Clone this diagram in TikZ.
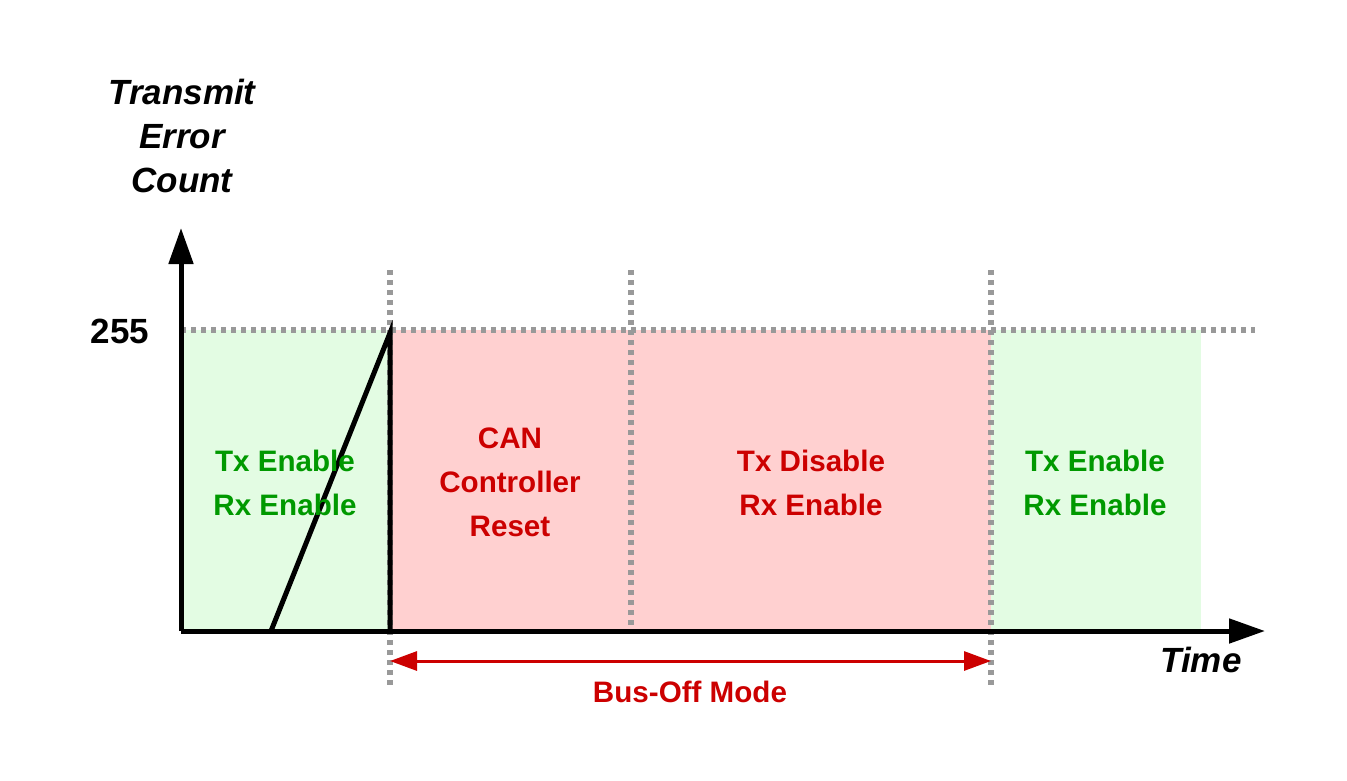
\documentclass[tikz,border=0pt]{standalone}
\usepackage{fontspec}
\setmainfont{Liberation Sans}
\usetikzlibrary{arrows.meta}
\definecolor{okgreen}{HTML}{009900}
\definecolor{errred}{HTML}{CC0000}
\definecolor{greenfill}{HTML}{E3FCE3}
\definecolor{redfill}{HTML}{FFD0D0}
\definecolor{dotgray}{HTML}{999999}
\tikzset{
  dotline/.style={draw=dotgray,line width=5.5pt,dash pattern=on 5pt off 5pt},
  axisline/.style={line width=5pt,-{Triangle[length=36pt,width=24pt]}},
  lbl/.style={font=\fontsize{29.6}{44}\selectfont\bfseries,align=center,inner sep=0pt},
  title/.style={font=\fontsize{35}{44}\selectfont\bfseries\itshape,align=center,inner sep=0pt},
}
\begin{document}
\begin{tikzpicture}[x=1pt,y=-1pt]
\useasboundingbox (0,0) rectangle (1347,780);
% key points
\coordinate (O) at (181,631);
\coordinate (ytip) at (181,228);
\coordinate (xtip) at (1265,631);
\coordinate (lvlL) at (181,330);
\coordinate (lvlR) at (1255,330);
\coordinate (rampA) at (271,631);
\coordinate (rampB) at (390,333);
\coordinate (rampC) at (390,631);
\coordinate (busL) at (390,661);
\coordinate (busR) at (991,661);
% fills
\fill[greenfill] (181,330) rectangle (390,631);
\fill[redfill] (390,330) rectangle (991,631);
\fill[greenfill] (991,330) rectangle (1201,631);
% dotted guides
\draw[dotline] (lvlL) -- (lvlR);
\draw[dotline] (390,270) -- (390,686);
\draw[dotline] (631,270) -- (631,631);
\draw[dotline] (991,270) -- (991,686);
% axes
\draw[axisline] (O) -- (ytip);
\draw[axisline] (O) -- (xtip);
% ramp
\draw[line width=5pt,line join=miter] (rampA) -- (rampB) -- (rampC);
% bus-off arrow
\draw[errred,line width=3pt,{Triangle[length=27pt,width=19pt]}-{Triangle[length=27pt,width=19pt]}] (busL) -- (busR);
% labels
\node[title] (ylab) at (182,136) {Transmit\\Error\\Count};
\node[title] (xlab) at (1201,660) {Time};
\node[font=\fontsize{35}{40}\selectfont\bfseries,inner sep=0pt] (v255) at (120,331) {255};
\node[lbl,text=okgreen] (s1) at (285,483) {Tx Enable\\Rx Enable};
\node[lbl,text=errred] (s2) at (510,482) {CAN\\Controller\\Reset};
\node[lbl,text=errred] (s3) at (811,483) {Tx Disable\\Rx Enable};
\node[lbl,text=okgreen] (s4) at (1095,483) {Tx Enable\\Rx Enable};
\node[lbl,text=errred] (bus) at (690,692) {Bus-Off Mode};
\end{tikzpicture}
\end{document}
